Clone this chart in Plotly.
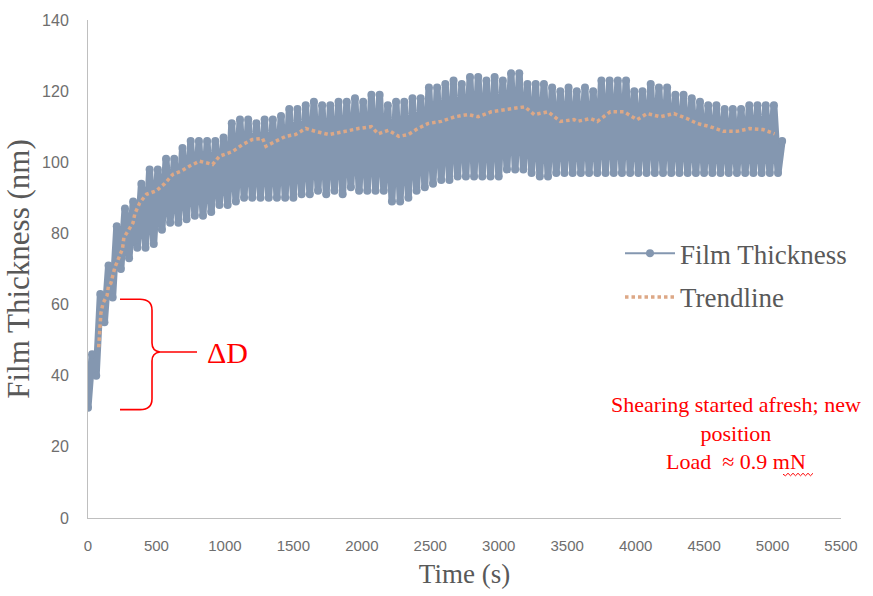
import plotly.graph_objects as go

# ---------------- data ----------------
time_s = [
    0, 30, 60, 90, 120, 150, 180, 210, 240, 270, 300, 330, 360, 390, 420, 450, 480, 510, 540, 570,
    600, 630, 660, 690, 720, 750, 780, 810, 840, 870, 900, 930, 960, 990, 1020, 1050, 1080, 1110, 1140, 1170,
    1200, 1230, 1260, 1290, 1320, 1350, 1380, 1410, 1440, 1470, 1500, 1530, 1560, 1590, 1620, 1650, 1680, 1710, 1740, 1770,
    1800, 1830, 1860, 1890, 1920, 1950, 1980, 2010, 2040, 2070, 2100, 2130, 2160, 2190, 2220, 2250, 2280, 2310, 2340, 2370,
    2400, 2430, 2460, 2490, 2520, 2550, 2580, 2610, 2640, 2670, 2700, 2730, 2760, 2790, 2820, 2850, 2880, 2910, 2940, 2970,
    3000, 3030, 3060, 3090, 3120, 3150, 3180, 3210, 3240, 3270, 3300, 3330, 3360, 3390, 3420, 3450, 3480, 3510, 3540, 3570,
    3600, 3630, 3660, 3690, 3720, 3750, 3780, 3810, 3840, 3870, 3900, 3930, 3960, 3990, 4020, 4050, 4080, 4110, 4140, 4170,
    4200, 4230, 4260, 4290, 4320, 4350, 4380, 4410, 4440, 4470, 4500, 4530, 4560, 4590, 4620, 4650, 4680, 4710, 4740, 4770,
    4800, 4830, 4860, 4890, 4920, 4950, 4980, 5010, 5040, 5070,
]
film_thickness = [
    31, 46, 40, 63, 55, 71, 62, 82, 70, 87, 73, 89, 76, 94, 76, 98, 77, 98, 81, 101,
    83, 101, 83, 104, 84, 106, 85, 106, 85, 106, 86, 106, 88, 107, 88, 111, 89, 112, 90, 112,
    90, 111, 90, 112, 90, 112, 90, 113, 90, 115, 90, 115, 91, 116, 91, 117, 92, 116, 91, 116,
    92, 117, 91, 117, 93, 118, 92, 117, 92, 119, 92, 119, 92, 116, 89, 117, 89, 117, 90, 118,
    92, 118, 93, 121, 94, 121, 95, 122, 95, 123, 96, 122, 96, 124, 96, 124, 96, 123, 96, 124,
    96, 123, 98, 125, 98, 125, 98, 122, 97, 122, 96, 122, 96, 121, 97, 120, 97, 121, 97, 120,
    97, 121, 97, 120, 97, 123, 97, 123, 97, 123, 97, 123, 97, 120, 97, 120, 97, 122, 97, 121,
    97, 121, 97, 119, 97, 119, 97, 118, 97, 117, 97, 116, 97, 116, 97, 115, 97, 115, 97, 115,
    97, 116, 97, 116, 97, 116, 97, 116, 97, 106,
]
trend_time = [
    78, 87, 94, 110, 140, 150, 167, 196, 225, 252, 262, 300, 329, 342, 378, 427, 500, 560, 620, 680,
    740, 815, 910, 960, 1055, 1130, 1200, 1275, 1300, 1370, 1445, 1515, 1590, 1660, 1760, 1880, 1975, 2070, 2120, 2195,
    2270, 2340, 2410, 2485, 2580, 2680, 2775, 2850, 2945, 3045, 3190, 3260, 3360, 3450, 3550, 3575, 3670, 3720, 3815, 3915,
    4010, 4085, 4180, 4280, 4375, 4450, 4545, 4640, 4740, 4835, 4930, 5015,
]
trend_value = [
    48, 54.5, 57.5, 60.4, 62.6, 65.4, 66, 70.4, 72.9, 75.7, 78.8, 81, 83, 85.5, 88.6, 91, 92, 94, 96.6, 97.5,
    98.9, 100.3, 99.4, 101.7, 103, 105, 106.4, 106.7, 104.5, 105.9, 107.3, 107.8, 109.5, 108.7, 107.8, 108.7, 109.5, 110, 108, 109,
    107.3, 107.8, 109.5, 110.9, 111.5, 112.8, 113.4, 112.8, 114.2, 114.8, 115.6, 113.4, 114.2, 111.5, 112, 111.5, 112.3, 111.5, 114.2, 114.2,
    112, 113.7, 112.8, 113.7, 112.3, 110.9, 110, 108.7, 108.7, 109.5, 109.2, 108,
]
x_ticks = [0, 500, 1000, 1500, 2000, 2500, 3000, 3500, 4000, 4500, 5000, 5500]
y_ticks = [0, 20, 40, 60, 80, 100, 120, 140]

# ---------------- styling ----------------
W, H = 873, 596
ML, MR, MT, MB = 88, 32, 18, 77
PW, PH = W - ML - MR, H - MT - MB
BLUE = "#8497B0"
PEACH = "#DDA886"
GREY = "#595959"
TICKGREY = "#6E6E6E"
AXIS = "#BFBFBF"
SERIF = "Liberation Serif, Times New Roman, serif"
SANS = "Liberation Sans Narrow, Liberation Sans, Arial, sans-serif"


def px(x):
    return (x - ML) / PW


def py(y):
    return (H - MB - y) / PH


fig = go.Figure()

# film thickness band (dense oscillation)
fig.add_trace(go.Scatter(
    x=time_s, y=film_thickness, mode="lines+markers",
    line=dict(color=BLUE, width=7), marker=dict(color=BLUE, size=8),
    showlegend=False, hoverinfo="skip",
))
# legend entry for film thickness
fig.add_trace(go.Scatter(
    x=[None], y=[None], mode="lines+markers", name="Film Thickness",
    line=dict(color=BLUE, width=2), marker=dict(color=BLUE, size=8),
    legend="legend",
))
# trendline
fig.add_trace(go.Scatter(
    x=trend_time, y=trend_value, mode="lines", name="Trendline",
    line=dict(color=PEACH, width=3.5, dash="3.5px,3px"),
    legend="legend2",
))

# brace
brace = (
    f"M{px(120)},{py(299)} L{px(140)},{py(299)} Q{px(152)},{py(299)} {px(152)},{py(310)} "
    f"L{px(152)},{py(343)} Q{px(152)},{py(351)} {px(160)},{py(352)} L{px(197)},{py(352)} "
    f"M{px(160)},{py(352)} Q{px(152)},{py(353)} {px(152)},{py(361)} L{px(152)},{py(399)} "
    f"Q{px(152)},{py(410)} {px(140)},{py(410)} L{px(120)},{py(410)}"
)
shapes = [dict(type="path", xref="paper", yref="paper", path=brace,
               line=dict(color="#FF0000", width=1.6))]

# wavy spell-check underline under "mN"
wx = 783
wave = f"M{px(wx)},{py(475)}"
up = True
while wx < 811:
    wx += 2.5
    wave += f" L{px(wx)},{py(476.5 if up else 474)}"
    up = not up
shapes.append(dict(type="path", xref="paper", yref="paper", path=wave,
                   line=dict(color="#FF0000", width=1)))

annotations = [
    dict(x=px(205), y=py(352), xref="paper", yref="paper", xanchor="left", yanchor="middle",
         text="ΔD", showarrow=False, font=dict(family=SERIF, size=30, color="#FF0000")),
    dict(x=px(736), y=py(433), xref="paper", yref="paper", xanchor="center", yanchor="middle",
         text="Shearing started afresh; new<br>position<br>Load  ≈ 0.9 mN", align="center",
         showarrow=False, font=dict(family=SERIF, size=22, color="#FF0000")),
]

fig.update_layout(
    width=W, height=H,
    margin=dict(l=ML, r=MR, t=MT, b=MB, pad=0),
    paper_bgcolor="white", plot_bgcolor="white",
    xaxis=dict(
        range=[0, 5500], tickvals=x_ticks, ticktext=[str(v) for v in x_ticks],
        showgrid=False, zeroline=False, showline=True, linecolor=AXIS, linewidth=1,
        ticks="", ticklabelstandoff=14,
        tickfont=dict(family=SANS, size=15, color=TICKGREY),
        title=dict(text="Time (s)", font=dict(family=SERIF, size=27, color=GREY), standoff=11),
    ),
    yaxis=dict(
        range=[0, 140], tickvals=y_ticks, ticktext=[str(v) for v in y_ticks],
        showgrid=False, zeroline=False, showline=True, linecolor=AXIS, linewidth=1,
        ticks="", ticklabelstandoff=15,
        tickfont=dict(family=SANS, size=16, color=TICKGREY),
        title=dict(text="Film Thickness (nm)", font=dict(family=SERIF, size=31, color=GREY), standoff=3),
    ),
    legend=dict(x=px(620), y=py(253), xanchor="left", yanchor="middle",
                font=dict(family=SERIF, size=27, color=GREY), bgcolor="rgba(0,0,0,0)",
                itemwidth=50),
    legend2=dict(x=px(620), y=py(297), xanchor="left", yanchor="middle",
                 font=dict(family=SERIF, size=27, color=GREY), bgcolor="rgba(0,0,0,0)",
                 itemwidth=50),
    shapes=shapes,
    annotations=annotations,
)

fig.write_html("out.html")
